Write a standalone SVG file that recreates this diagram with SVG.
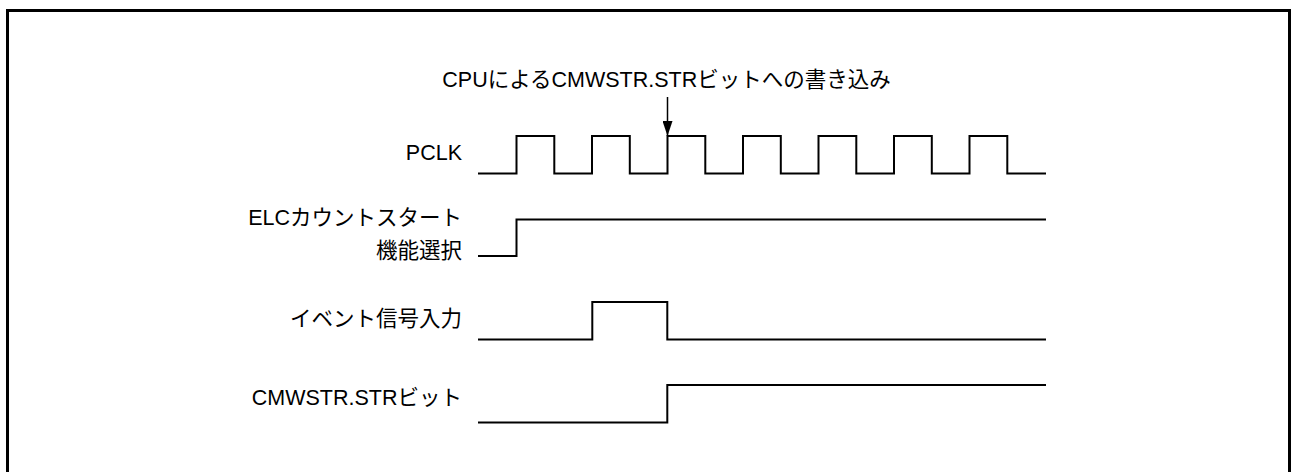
<svg xmlns="http://www.w3.org/2000/svg" width="1291" height="472" viewBox="0 0 1291 472">
<style>
.lbl{font-family:"Liberation Sans","Noto Sans CJK JP",sans-serif;font-size:21.5px;fill:#000}
.wave{fill:none;stroke:#000;stroke-width:2;stroke-linejoin:miter}
</style>
<defs>
<marker id="ah" markerWidth="15" markerHeight="10" refX="15" refY="5" orient="auto" markerUnits="userSpaceOnUse" viewBox="0 0 15 10">
<path d="M0,0 L15,5 L0,10 Z" fill="#000"/>
</marker>
</defs>
<rect x="0" y="0" width="1291" height="472" fill="#fff"/>
<rect x="7.5" y="10.5" width="1282" height="480" fill="none" stroke="#000" stroke-width="3"/>
<g id="title"><text class="lbl" x="666.5" y="86.5" text-anchor="middle">CPUによるCMWSTR.STRビットへの書き込み</text></g>
<g id="pclk">
<text class="lbl" x="462" y="160" text-anchor="end">PCLK</text>
<path class="wave" d="M478,173.5 H516.5 V136 H554.3 V173.5 H592 V136 H629.8 V173.5 H667.5 V136 H705.3 V173.5 H743 V136 H780.8 V173.5 H818.5 V136 H856.3 V173.5 H894 V136 H931.8 V173.5 H969.5 V136 H1007.3 V173.5 H1046"/>
</g>
<g id="elc">
<text class="lbl" x="462" y="225" text-anchor="end">ELCカウントスタート</text>
<text class="lbl" x="462" y="258" text-anchor="end">機能選択</text>
<path class="wave" d="M478,256 H516.5 V219.5 H1046"/>
</g>
<g id="event">
<text class="lbl" x="462" y="326" text-anchor="end">イベント信号入力</text>
<path class="wave" d="M478,339.5 H592.3 V302 H667.3 V339.5 H1046"/>
</g>
<g id="cmwstr">
<text class="lbl" x="462" y="405" text-anchor="end">CMWSTR.STRビット</text>
<path class="wave" d="M478,422.5 H667.3 V385 H1046"/>
</g>
<g id="connectors">
<line x1="667.5" y1="97" x2="667.5" y2="136" stroke="#000" stroke-width="1.5" marker-end="url(#ah)"/>
</g>
</svg>
